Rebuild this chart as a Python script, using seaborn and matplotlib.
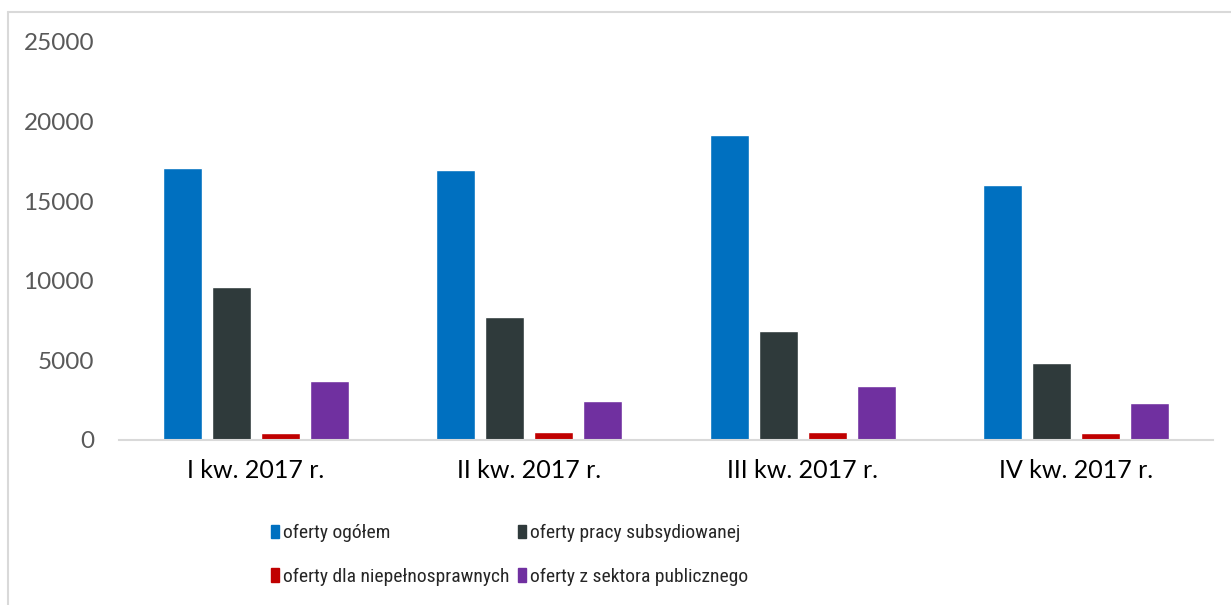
import numpy as np
import pandas as pd
import seaborn as sns
import matplotlib.pyplot as plt
from matplotlib.lines import Line2D

quarters = ['I kw. 2017 r.', 'II kw. 2017 r.', 'III kw. 2017 r.', 'IV kw. 2017 r.']
series = ['oferty ogółem', 'oferty pracy subsydiowanej',
          'oferty dla niepełnosprawnych', 'oferty z sektora publicznego']
ogolem = [17100, 16980, 19160, 16020]
subsydiowane = [9630, 7745, 6865, 4840]
niepelnosprawni = [460, 520, 480, 460]
publiczny = [3725, 2430, 3390, 2300]
colors = ['#0070C0', '#2F3A3B', '#C00000', '#7030A0']

df = pd.DataFrame({'kwartal': quarters * 4,
                   'seria': np.repeat(series, 4),
                   'liczba': ogolem + subsydiowane + niepelnosprawni + publiczny})

sns.set_theme(style='white')
plt.rcParams['font.family'] = ['Lato', 'DejaVu Sans']

fig = plt.figure(figsize=(12.31, 6.05), dpi=100)
ax = fig.add_axes([119 / 1231, 1 - 440 / 605, (1213 - 119) / 1231, (440 - 42) / 605])

sns.barplot(data=df, x='kwartal', y='liczba', hue='seria', hue_order=series,
            palette=colors, width=0.717, gap=0.2, saturation=1, ax=ax, legend=False)

ax.set_ylim(0, 25000)
ax.set_yticks(range(0, 25001, 5000))
ax.set_xlabel('')
ax.set_ylabel('')
for s in ['top', 'right', 'left']:
    ax.spines[s].set_visible(False)
ax.spines['bottom'].set_color('#D9D9D9')
ax.spines['bottom'].set_linewidth(1.5)
ax.tick_params(axis='y', length=0, pad=18, labelsize=17.5, labelcolor='#595959')
ax.tick_params(axis='x', length=0, pad=14, labelsize=18, labelcolor='#000000')

# outer chart border (cut by image edges)
fig.add_artist(Line2D([8 / 1231, 8 / 1231], [0, 1 - 12 / 605], color='#D9D9D9', lw=1.5))
fig.add_artist(Line2D([8 / 1231, 1], [1 - 12 / 605, 1 - 12 / 605], color='#D9D9D9', lw=1.5))

# legend filled row by row like the original
order = [0, 2, 1, 3]
handles = [plt.Rectangle((0, 0), 1, 1, color=colors[i]) for i in order]
labels = [series[i] for i in order]
fig.legend(handles, labels, ncol=2, loc='center left', bbox_to_anchor=(261 / 1231, 1 - 555 / 605),
           frameon=False, borderpad=0, handlelength=0.45, handleheight=0.7, handletextpad=0.2,
           columnspacing=0.4, labelspacing=1.3,
           prop={'family': ['Roboto Condensed', 'Lato', 'DejaVu Sans'], 'size': 14})

fig.savefig('out.png', dpi=100)
